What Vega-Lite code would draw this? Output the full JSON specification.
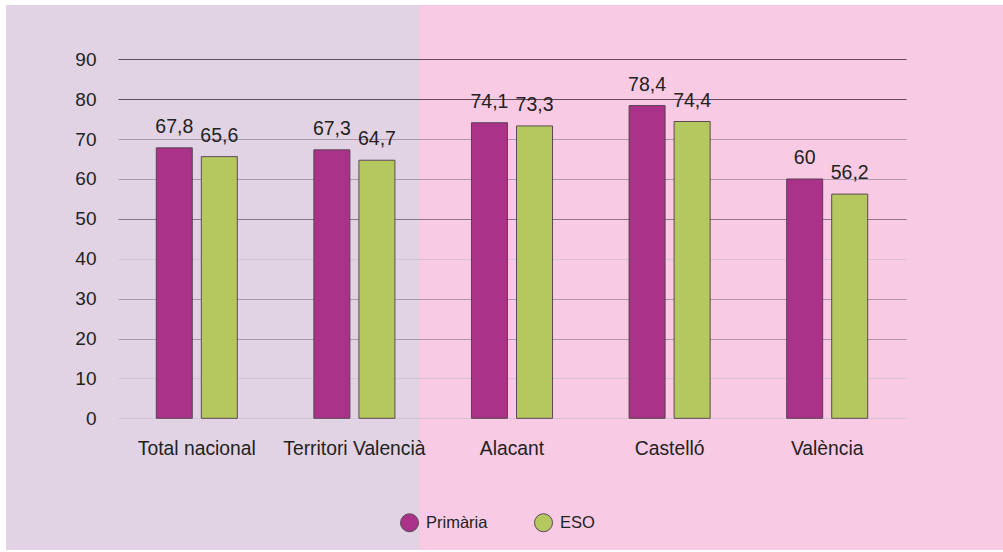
{
  "$schema": "https://vega.github.io/schema/vega-lite/v6.json",
  "width": 997,
  "height": 545,
  "autosize": "none",
  "padding": {"left": 6, "top": 5, "right": 0, "bottom": 2},
  "background": "#ffffff",
  "config": {
    "font": "Liberation Sans",
    "locale": {"number": {"decimal": ",", "thousands": ".", "grouping": [3], "currency": ["", " €"]}},
    "view": {
      "stroke": null,
      "fill": {
        "gradient": "linear", "x1": 0, "y1": 0, "x2": 1, "y2": 0,
        "stops": [
          {"offset": 0, "color": "#e2d3e4"},
          {"offset": 0.4147, "color": "#e2d3e4"},
          {"offset": 0.4148, "color": "#f9cae3"},
          {"offset": 1, "color": "#f9cae3"}
        ]
      }
    }
  },
  "data": {
    "values": [
      {"region": "Total nacional", "nivell": "Primària", "valor": 67.8},
      {"region": "Total nacional", "nivell": "ESO", "valor": 65.6},
      {"region": "Territori Valencià", "nivell": "Primària", "valor": 67.3},
      {"region": "Territori Valencià", "nivell": "ESO", "valor": 64.7},
      {"region": "Alacant", "nivell": "Primària", "valor": 74.1},
      {"region": "Alacant", "nivell": "ESO", "valor": 73.3},
      {"region": "Castelló", "nivell": "Primària", "valor": 78.4},
      {"region": "Castelló", "nivell": "ESO", "valor": 74.4},
      {"region": "València", "nivell": "Primària", "valor": 60},
      {"region": "València", "nivell": "ESO", "valor": 56.2}
    ]
  },
  "encoding": {
    "x": {
      "field": "region", "type": "nominal",
      "sort": ["Total nacional", "Territori Valencià", "Alacant", "Castelló", "València"],
      "scale": {"range": [112, 900], "paddingInner": 0, "paddingOuter": 0},
      "axis": {
        "orient": "bottom", "offset": -132, "title": null, "labelAngle": 0,
        "labelFontSize": 19.3, "labelColor": "#222222", "labelPadding": 21,
        "ticks": false, "domain": false, "grid": false, "labelLimit": 0
      }
    },
    "xOffset": {
      "field": "nivell", "type": "nominal", "sort": ["Primària", "ESO"],
      "scale": {"paddingInner": 0.2, "paddingOuter": 0.85}
    },
    "y": {
      "field": "valor", "type": "quantitative",
      "scale": {"domain": [0, 90], "range": [413.3, 54.3], "nice": false, "zero": true},
      "axis": {
        "orient": "left", "offset": -91, "title": null,
        "values": [0, 10, 20, 30, 40, 50, 60, 70, 80, 90],
        "labelFontSize": 19, "labelColor": "#222222", "labelPadding": 1,
        "ticks": false, "domain": false, "grid": true,
        "gridColor": {
          "condition": [
            {"test": "datum.value >= 80", "value": "#5e4b5c"},
            {"test": "datum.value == 50", "value": "#8a7688"},
            {"test": "datum.value == 40 || datum.value == 10 || datum.value == 0", "value": "#d6c2d4"}
          ],
          "value": "#ad99ab"
        },
        "gridWidth": 1
      }
    }
  },
  "layer": [
    {
      "mark": {"type": "bar", "stroke": "#4e3c4a", "strokeWidth": 0.9},
      "encoding": {
        "color": {
          "field": "nivell", "type": "nominal",
          "sort": ["Primària", "ESO"],
          "scale": {"domain": ["Primària", "ESO"], "range": ["#aa3389", "#b5c85f"]},
          "legend": {
            "orient": "none", "legendX": 394, "legendY": 508, "direction": "horizontal",
            "title": null, "symbolType": "circle", "symbolSize": 324,
            "symbolStrokeColor": "#5a4655", "symbolStrokeWidth": 1, "symbolOpacity": 1,
            "labelFontSize": 16.5, "labelColor": "#222222", "labelOffset": 7,
            "columnPadding": 44, "padding": 0
          }
        }
      }
    },
    {
      "mark": {"type": "text", "baseline": "alphabetic", "dy": -15, "fontSize": 19.5, "color": "#222222"},
      "encoding": {
        "text": {"field": "valor", "type": "quantitative", "format": "~g"}
      }
    }
  ]
}
